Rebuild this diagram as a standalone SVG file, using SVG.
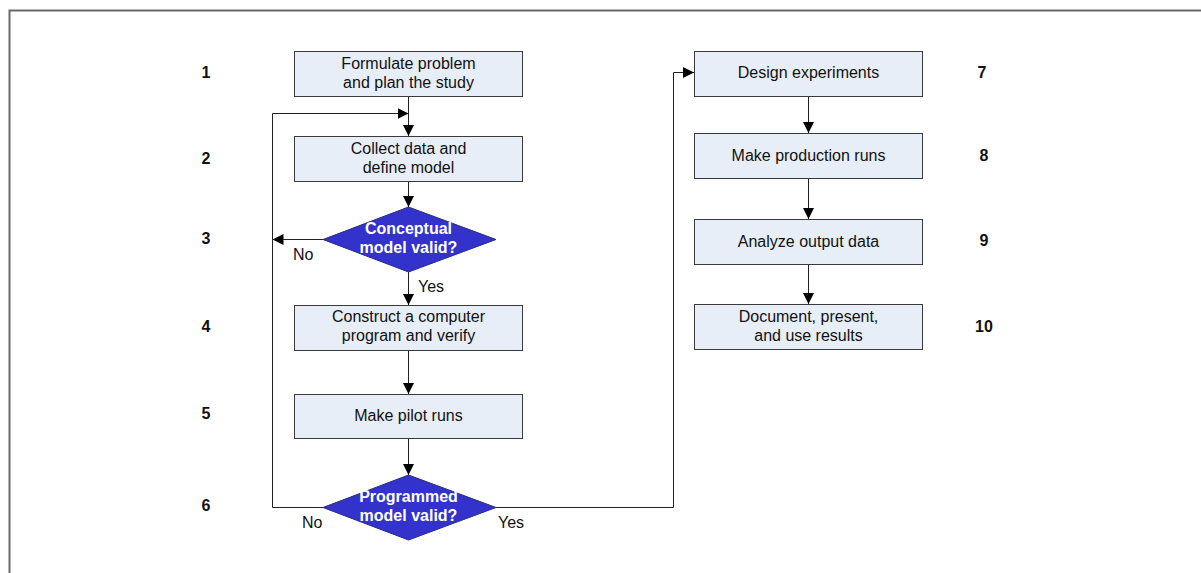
<svg xmlns="http://www.w3.org/2000/svg" width="1201" height="573" viewBox="0 0 1201 573">
  <style>
    .box { fill: #e8eef8; stroke: #3a3a3a; stroke-width: 1; }
    .dia { fill: #3333cc; stroke: #2a2a80; stroke-width: 1; }
    .t { font-family: "Liberation Sans", Arial, sans-serif; font-size: 16px; fill: #111; text-anchor: middle; }
    .dt { font-family: "Liberation Sans", Arial, sans-serif; font-size: 16px; font-weight: bold; fill: #ffffff; text-anchor: middle; }
    .num { font-family: "Liberation Sans", Arial, sans-serif; font-size: 16px; font-weight: bold; fill: #111; text-anchor: middle; }
    .lbl { font-family: "Liberation Sans", Arial, sans-serif; font-size: 16px; fill: #111; }
    .c { fill: none; stroke: #222; stroke-width: 1; marker-end: url(#ah); }
    .cl { fill: none; stroke: #222; stroke-width: 1; }
  </style>
  <defs>
    <marker id="ah" viewBox="0 0 10 10" refX="10" refY="5" markerWidth="11" markerHeight="11" markerUnits="userSpaceOnUse" orient="auto">
      <path d="M0,0 L10,5 L0,10 z" fill="#000"/>
    </marker>
  </defs>

  <rect width="1201" height="573" fill="#ffffff"/>
  <!-- outer frame -->
  <path d="M9.5,573 L9.5,10.5 L1201,10.5" fill="none" stroke="#6a6a6a" stroke-width="2"/>

  <!-- step numbers -->
  <g id="numbers">
    <text class="num" x="206" y="78">1</text>
    <text class="num" x="206" y="164">2</text>
    <text class="num" x="206" y="244">3</text>
    <text class="num" x="206" y="332">4</text>
    <text class="num" x="206" y="419">5</text>
    <text class="num" x="206" y="511">6</text>
    <text class="num" x="982" y="78">7</text>
    <text class="num" x="984" y="161">8</text>
    <text class="num" x="984" y="246">9</text>
    <text class="num" x="984" y="332">10</text>
  </g>

  <!-- connectors -->
  <g id="connectors">
    <path class="c" d="M408.5,97 L408.5,136"/>
    <path class="c" d="M272.5,113.5 L408.5,113.5"/>
    <path class="c" d="M408.5,182 L408.5,207"/>
    <path class="c" d="M323,239.5 L272.5,239.5"/>
    <path class="c" d="M408.5,272 L408.5,305"/>
    <path class="c" d="M408.5,350 L408.5,394"/>
    <path class="c" d="M408.5,438 L408.5,475"/>
    <path class="cl" d="M323,507.5 L272.5,507.5 L272.5,113.5"/>
    <path class="c" d="M496,507.5 L673.5,507.5 L673.5,72.5 L694,72.5"/>
    <path class="c" d="M808.5,96 L808.5,133"/>
    <path class="c" d="M808.5,179 L808.5,219"/>
    <path class="c" d="M808.5,264 L808.5,304"/>
    <text class="lbl" x="293" y="260">No</text>
    <text class="lbl" x="418" y="292">Yes</text>
    <text class="lbl" x="302" y="528">No</text>
    <text class="lbl" x="498" y="528">Yes</text>
  </g>

  <g id="n1">
    <rect class="box" x="294.5" y="51.5" width="228" height="45"/>
    <text class="t" x="408.5" y="69">Formulate problem</text>
    <text class="t" x="408.5" y="88">and plan the study</text>
  </g>
  <g id="n2">
    <rect class="box" x="294.5" y="136.5" width="228" height="45"/>
    <text class="t" x="408.5" y="154">Collect data and</text>
    <text class="t" x="408.5" y="173">define model</text>
  </g>
  <g id="n3">
    <polygon class="dia" points="408.5,207 496,239.5 408.5,272 323,239.5"/>
    <text class="dt" x="408.5" y="234">Conceptual</text>
    <text class="dt" x="408.5" y="253">model valid?</text>
  </g>
  <g id="n4">
    <rect class="box" x="294.5" y="305.5" width="228" height="45"/>
    <text class="t" x="408.5" y="322">Construct a computer</text>
    <text class="t" x="408.5" y="341">program and verify</text>
  </g>
  <g id="n5">
    <rect class="box" x="294.5" y="394.5" width="228" height="44"/>
    <text class="t" x="408.5" y="421">Make pilot runs</text>
  </g>
  <g id="n6">
    <polygon class="dia" points="408.5,475 496,507.5 408.5,540 323,507.5"/>
    <text class="dt" x="408.5" y="502">Programmed</text>
    <text class="dt" x="408.5" y="521">model valid?</text>
  </g>
  <g id="n7">
    <rect class="box" x="694.5" y="51.5" width="228" height="45"/>
    <text class="t" x="808.5" y="78">Design experiments</text>
  </g>
  <g id="n8">
    <rect class="box" x="694.5" y="133.5" width="228" height="45"/>
    <text class="t" x="808.5" y="161">Make production runs</text>
  </g>
  <g id="n9">
    <rect class="box" x="694.5" y="219.5" width="228" height="45"/>
    <text class="t" x="808.5" y="247">Analyze output data</text>
  </g>
  <g id="n10">
    <rect class="box" x="694.5" y="304.5" width="228" height="45"/>
    <text class="t" x="808.5" y="322">Document, present,</text>
    <text class="t" x="808.5" y="341">and use results</text>
  </g>
</svg>
